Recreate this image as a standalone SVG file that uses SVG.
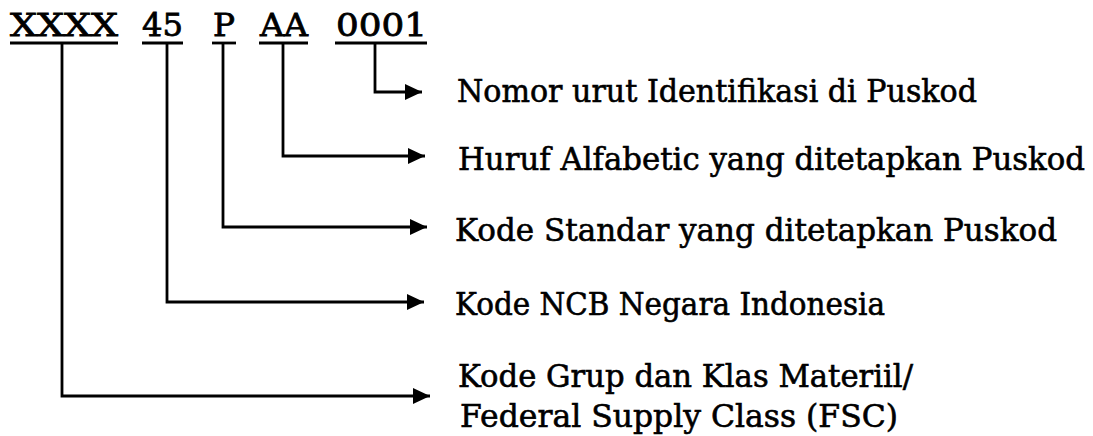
<svg xmlns="http://www.w3.org/2000/svg" width="1093" height="436" viewBox="0 0 1093 436">
<style>
.t{font-family:"DejaVu Serif","Liberation Serif",serif;font-size:31px;fill:#000;stroke:#000;stroke-width:0.6}
.c{font-family:"DejaVu Serif","Liberation Serif",serif;font-size:32px;fill:#000;stroke:#000;stroke-width:0.8}
.u{stroke:#000;stroke-width:2.8;fill:none}
.ln{stroke:#000;stroke-width:2.8;fill:none;marker-end:url(#ah)}
</style>
<defs>
<marker id="ah" markerUnits="userSpaceOnUse" markerWidth="17" markerHeight="16" refX="17" refY="8" orient="auto">
<path d="M0,0 L17,8 L0,16 Z" fill="#000"/>
</marker>
</defs>
<rect width="1093" height="436" fill="#fff"/>
<g id="code">
<g id="seg-xxxx"><text class="c" x="10" y="36" textLength="108" lengthAdjust="spacingAndGlyphs">XXXX</text><line class="u" x1="10" y1="43" x2="118" y2="43"/></g>
<g id="seg-45"><text class="c" x="142" y="36" textLength="41" lengthAdjust="spacingAndGlyphs">45</text><line class="u" x1="142" y1="43" x2="183" y2="43"/></g>
<g id="seg-p"><text class="c" x="213" y="36" textLength="22" lengthAdjust="spacingAndGlyphs">P</text><line class="u" x1="212" y1="43" x2="236" y2="43"/></g>
<g id="seg-aa"><text class="c" x="260" y="36" textLength="48" lengthAdjust="spacingAndGlyphs">AA</text><line class="u" x1="259" y1="43" x2="308" y2="43"/></g>
<g id="seg-0001"><text class="c" x="336" y="36" textLength="91" lengthAdjust="spacingAndGlyphs">0001</text><line class="u" x1="335" y1="43" x2="427" y2="43"/></g>
</g>
<g id="connectors">
<polyline class="ln" points="375,43 375,92 422,92"/>
<polyline class="ln" points="283,43 283,156 425,156"/>
<polyline class="ln" points="223,43 223,227 427,227"/>
<polyline class="ln" points="167,43 167,302 424,302"/>
<polyline class="ln" points="62,43 62,396 430,396"/>
</g>
<g id="label-nomor"><text class="t" x="457" y="102" textLength="520" lengthAdjust="spacingAndGlyphs">Nomor urut Identifikasi di Puskod</text></g>
<g id="label-huruf"><text class="t" x="458" y="170" textLength="627" lengthAdjust="spacingAndGlyphs">Huruf Alfabetic yang ditetapkan Puskod</text></g>
<g id="label-standar"><text class="t" x="455" y="241" textLength="602" lengthAdjust="spacingAndGlyphs">Kode Standar yang ditetapkan Puskod</text></g>
<g id="label-ncb"><text class="t" x="455" y="315" textLength="430" lengthAdjust="spacingAndGlyphs">Kode NCB Negara Indonesia</text></g>
<g id="label-fsc">
<text class="t" x="458" y="387" textLength="455" lengthAdjust="spacingAndGlyphs">Kode Grup dan Klas Materiil/</text>
<text class="t" x="460" y="427" textLength="438" lengthAdjust="spacingAndGlyphs">Federal Supply Class (FSC)</text>
</g>
</svg>
